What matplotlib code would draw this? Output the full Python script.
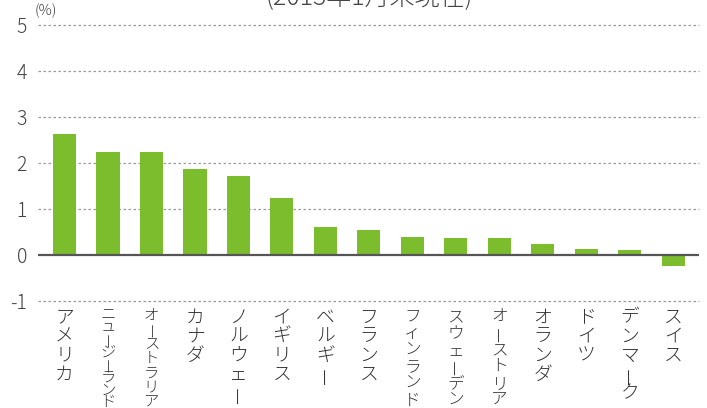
import matplotlib
matplotlib.use("Agg")
import matplotlib.pyplot as plt

plt.rcParams['font.family'] = ['Noto Sans CJK JP', 'DejaVu Sans']

# data
countries = ["アメリカ", "ニュージーランド", "オーストラリア", "カナダ", "ノルウェー",
             "イギリス", "ベルギー", "フランス", "フィンランド", "スウェーデン",
             "オーストリア", "オランダ", "ドイツ", "デンマーク", "スイス"]
values = [2.62, 2.25, 2.25, 1.88, 1.71, 1.23, 0.60, 0.55, 0.40, 0.38,
          0.36, 0.25, 0.14, 0.10, -0.24]
yticks = [-1, 0, 1, 2, 3, 4, 5]
title = "(2013年1月末現在)"
unit = "(%)"

W, H = 707, 408
top, bot = 25, 301   # pixel rows of y=5 and y=-1
fig = plt.figure(figsize=(W / 100, H / 100), dpi=100)
ax = fig.add_axes([38 / W, 1 - bot / H, (699 - 38) / W, (bot - top) / H])

x = list(range(len(countries)))
ax.bar(x, values, width=0.53, color='#7cbd2e', zorder=3)

ax.set_xlim(-0.61, 14.59)
ax.set_ylim(-1, 5)
for y in yticks:
    if y == 0:
        ax.axhline(y, color='#555555', lw=1.6, zorder=4)
    else:
        ax.axhline(y, color='#999999', lw=0.9, ls=(0, (2, 2)), zorder=1,
                   clip_on=False)

for s in ax.spines.values():
    s.set_visible(False)
ax.set_xticks([])
ax.set_yticks(yticks)
ax.set_yticklabels([str(v) for v in yticks], fontsize=14, color='#444444',
                   fontweight='light')
ax.tick_params(axis='y', length=0, pad=8)

# vertical labels, one character per line, long names squeezed to fit
for i, name in enumerate(countries):
    step = min(19.0, 101.0 / len(name))
    fs = 13.5 * max(0.82, step / 19.0)
    for k, ch in enumerate(name):
        ypix = 307 + step * (k + 0.5) + 1
        yy = (bot - ypix) / (bot - top)
        rot = 90 if ch == 'ー' else 0
        ax.text(i, yy, ch, transform=ax.get_xaxis_transform(), ha='center',
                va='center', fontsize=fs, color='#333333', rotation=rot,
                fontweight='light', clip_on=False)

fig.text(35 / W, 1 - 11 / H, unit, fontsize=10.5, color='#444444', va='center',
         ha='left', fontweight='light')
fig.text(369 / W, 1 - 5 / H, title, fontsize=18, color='#444444',
         ha='center', va='baseline', fontweight='light')

fig.savefig('out.png', dpi=100)
